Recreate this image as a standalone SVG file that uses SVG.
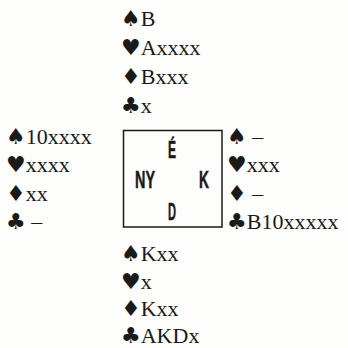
<svg xmlns="http://www.w3.org/2000/svg" width="348" height="348" viewBox="0 0 348 348">
<style>
.h{font-family:"Liberation Serif","Times New Roman",serif;font-size:22px;fill:#1a1a1a}
.s{font-family:"DejaVu Sans",sans-serif;font-size:22px}
.d{font-family:"Liberation Sans",Arial,sans-serif;font-weight:bold;font-size:23px;fill:#1a1a1a;stroke:#1a1a1a;stroke-width:0.5}
</style>
<rect width="348" height="348" fill="#fdfdfb"/>
<g id="north">
<text class="h" x="121" y="26"><tspan class="s">♠</tspan>B</text>
<text class="h" x="121" y="55"><tspan class="s">♥</tspan>Axxxx</text>
<text class="h" x="121" y="84"><tspan class="s">♦</tspan>Bxxx</text>
<text class="h" x="121" y="113"><tspan class="s">♣</tspan>x</text>
</g>
<g id="west">
<text class="h" x="6" y="144"><tspan class="s">♠</tspan>10xxxx</text>
<text class="h" x="6" y="172"><tspan class="s">♥</tspan>xxxx</text>
<text class="h" x="6" y="201"><tspan class="s">♦</tspan>xx</text>
<text class="h" x="6" y="229"><tspan class="s">♣</tspan> –</text>
</g>
<g id="east">
<text class="h" x="227" y="144"><tspan class="s">♠</tspan> –</text>
<text class="h" x="227" y="172"><tspan class="s">♥</tspan>xxx</text>
<text class="h" x="227" y="201"><tspan class="s">♦</tspan> –</text>
<text class="h" x="227" y="229"><tspan class="s">♣</tspan>B10xxxxx</text>
</g>
<g id="south">
<text class="h" x="121" y="261"><tspan class="s">♠</tspan>Kxx</text>
<text class="h" x="121" y="289"><tspan class="s">♥</tspan>x</text>
<text class="h" x="121" y="316"><tspan class="s">♦</tspan>Kxx</text>
<text class="h" x="121" y="343"><tspan class="s">♣</tspan>AKDx</text>
</g>
<g id="table">
<rect x="123.5" y="130.5" width="98.5" height="96.5" fill="none" stroke="#1a1a1a" stroke-width="1.5"/>
<text class="d" x="172" y="158" text-anchor="middle" textLength="8" lengthAdjust="spacingAndGlyphs">É</text>
<text class="d" x="135" y="188" textLength="20" lengthAdjust="spacingAndGlyphs">NY</text>
<text class="d" x="199" y="188" textLength="10" lengthAdjust="spacingAndGlyphs">K</text>
<text class="d" x="172" y="220" text-anchor="middle" textLength="8" lengthAdjust="spacingAndGlyphs">D</text>
</g>
</svg>
